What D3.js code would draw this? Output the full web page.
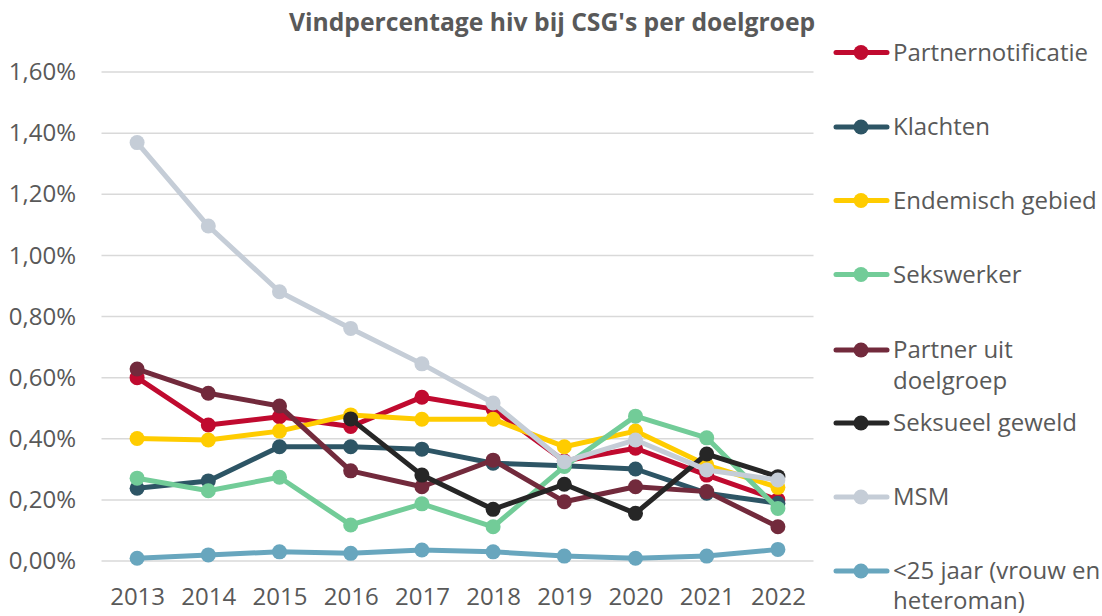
<!DOCTYPE html>
<html>
<head>
<meta charset="utf-8">
<script src="https://cdn.jsdelivr.net/npm/d3@7"></script>
<style>
  body { margin: 0; background: #fff; }
  svg { font-family: "Open Sans", sans-serif; }
</style>
</head>
<body>
<svg width="1102" height="616"></svg>
<script>
// jaren en reeksen (vindpercentage in %)
let years = ['2013', '2014', '2015', '2016', '2017', '2018', '2019', '2020', '2021', '2022'];
let yTicks = [0, 0.2, 0.4, 0.6, 0.8, 1.0, 1.2, 1.4, 1.6];

let partnernotificatie = [0.600, 0.445, 0.472, 0.440, 0.536, 0.497, 0.327, 0.369, 0.281, 0.200];
let klachten           = [0.238, 0.262, 0.374, 0.374, 0.366, 0.320, 0.312, 0.301, 0.222, 0.189];
let endemisch          = [0.401, 0.396, 0.425, 0.478, 0.464, 0.464, 0.374, 0.425, 0.314, 0.241];
let sekswerker         = [0.271, 0.230, 0.274, 0.118, 0.187, 0.112, 0.309, 0.474, 0.403, 0.172];
let partnerUit         = [0.628, 0.549, 0.507, 0.295, 0.243, 0.330, 0.194, 0.243, 0.227, 0.112];
let seksueelGeweld     = [null, null, null, 0.465, 0.281, 0.169, 0.251, 0.156, 0.350, 0.276];
let msm                = [1.369, 1.096, 0.881, 0.761, 0.645, 0.517, 0.325, 0.396, 0.298, 0.265];
let jonger25           = [0.009, 0.020, 0.030, 0.025, 0.036, 0.030, 0.016, 0.009, 0.016, 0.038];

let series = [
	{ name: ['Partnernotificatie'], values: partnernotificatie, color: '#C00A2F' },
	{ name: ['Klachten'], values: klachten, color: '#2D5565' },
	{ name: ['Endemisch gebied'], values: endemisch, color: '#FFCC00' },
	{ name: ['Sekswerker'], values: sekswerker, color: '#72CC98' },
	{ name: ['Partner uit', 'doelgroep'], values: partnerUit, color: '#722A3C' },
	{ name: ['Seksueel geweld'], values: seksueelGeweld, color: '#262626' },
	{ name: ['MSM'], values: msm, color: '#C5CDD7' },
	{ name: ['<25 jaar (vrouw en', 'heteroman)'], values: jonger25, color: '#68A6BE' }
];

let svg = d3.select('svg');

let x = d3.scalePoint()
	.domain(years)
	.range([101.5, 813.5])
	.padding(0.5);

let y = d3.scaleLinear()
	.domain([0, 1.6])
	.range([561, 72]);

let fmt = v => d3.format('.2f')(v).replace('.', ',') + '%';

// rasterlijnen
svg.append('g')
	.selectAll('line')
	.data(yTicks)
	.enter()
	.append('line')
	.attr('x1', 101.5)
	.attr('x2', 813.5)
	.attr('y1', d => y(d))
	.attr('y2', d => y(d))
	.attr('stroke', '#d9d9d9')
	.attr('stroke-width', 1.5);

// y-as
let yAxis = d3.axisLeft(y).tickValues(yTicks).tickFormat(fmt).tickSize(0).tickPadding(0);
let gy = svg.append('g')
	.attr('transform', 'translate(76, 0)')
	.call(yAxis);
gy.select('.domain').remove();
gy.selectAll('text')
	.attr('font-family', '"Open Sans", sans-serif')
	.attr('font-size', 24)
	.attr('fill', '#595959');

// x-as
let xAxis = d3.axisBottom(x).tickSize(0).tickPadding(0);
let gx = svg.append('g')
	.attr('transform', 'translate(0, 588)')
	.call(xAxis);
gx.select('.domain').remove();
gx.selectAll('text')
	.attr('font-family', '"Open Sans", sans-serif')
	.attr('font-size', 24)
	.attr('fill', '#595959');

// titel
svg.append('text')
	.attr('x', 552)
	.attr('y', 31)
	.attr('text-anchor', 'middle')
	.attr('font-size', 24.7)
	.attr('font-weight', 'bold')
	.attr('fill', '#595959')
	.text("Vindpercentage hiv bij CSG's per doelgroep");

// lijnen
series.forEach(function(s) {
	let pts = years.map((yr, i) => ({ year: yr, v: s.values[i] })).filter(d => d.v !== null);
	let line = d3.line()
		.x(d => x(d.year))
		.y(d => y(d.v));

	svg.append('path')
		.datum(pts)
		.attr('fill', 'none')
		.attr('stroke', s.color)
		.attr('stroke-width', 5)
		.attr('stroke-linejoin', 'round')
		.attr('d', line);

	svg.append('g')
		.selectAll('circle')
		.data(pts)
		.enter()
		.append('circle')
		.attr('r', 7.5)
		.attr('cx', d => x(d.year))
		.attr('cy', d => y(d.v))
		.attr('fill', s.color);
});

// legenda
let legendY = [52.5, 127, 200.5, 274.5, 350, 423, 497, 571];
let lineGap = [31, 31, 31, 31, 31, 31, 31, 30];
let legend = svg.append('g');
series.forEach(function(s, i) {
	let ly = legendY[i];
	let g = legend.append('g');
	g.append('line')
		.attr('x1', 836)
		.attr('x2', 887)
		.attr('y1', ly)
		.attr('y2', ly)
		.attr('stroke', s.color)
		.attr('stroke-width', 5)
		.attr('stroke-linecap', 'round');
	g.append('circle')
		.attr('cx', 861)
		.attr('cy', ly)
		.attr('r', 7.5)
		.attr('fill', s.color);
	s.name.forEach(function(t, j) {
		g.append('text')
			.attr('x', 893)
			.attr('y', ly + 8 + j * lineGap[i])
			.attr('font-size', 24)
			.attr('fill', '#595959')
			.text(t);
	});
});
</script>
</body>
</html>
